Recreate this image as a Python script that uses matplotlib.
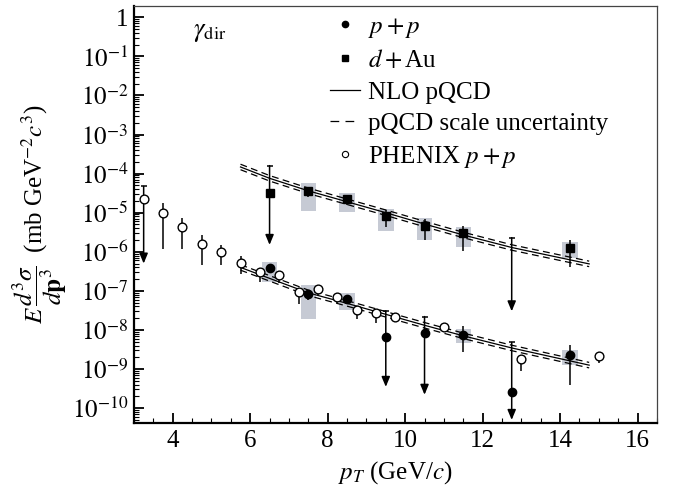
import numpy as np
import matplotlib
matplotlib.use("Agg")
import matplotlib.pyplot as plt
from matplotlib.lines import Line2D
from matplotlib.ticker import MultipleLocator, LogLocator, NullFormatter

plt.rcParams['font.family'] = 'serif'
plt.rcParams['font.serif'] = ['Liberation Serif', 'DejaVu Serif']
plt.rcParams['mathtext.fontset'] = 'stix'

# ---------------- data ----------------
# PHENIX p+p (open circles)
phenix_x = [3.25, 3.75, 4.25, 4.75, 5.25, 5.75, 6.25, 6.75, 7.25, 7.75, 8.25, 8.75, 9.25, 9.75, 11.0, 13.0, 15.0]
phenix_y = [2.2e-5, 1.0e-5, 4.3e-6, 1.6e-6, 9.8e-7, 5.2e-7, 3.1e-7, 2.5e-7, 9.1e-8, 1.15e-7, 6.9e-8, 3.2e-8, 2.7e-8, 2.2e-8, 1.2e-8, 1.8e-9, 2.1e-9]
phenix_hi = [2.2e-5, 1.8e-5, 7.2e-6, 2.7e-6, 1.5e-6, 7.9e-7, 3.8e-7, 2.7e-7, 1.0e-7, 1.25e-7, 7.5e-8, 3.5e-8, 3.0e-8, 2.4e-8, 1.3e-8, 1.9e-9, 2.2e-9]
phenix_lo = [2.2e-5, 1.2e-6, 1.2e-6, 4.7e-7, 4.6e-7, 2.7e-7, 1.7e-7, 1.6e-7, 4.7e-8, 8.0e-8, 5.0e-8, 1.9e-8, 1.55e-8, 1.7e-8, 1.0e-8, 8.7e-10, 1.4e-9]
# PHENIX upper limit (3.25 GeV/c)
phenix_lim_x = [3.25]
phenix_lim_top = [4.7e-5]
phenix_lim_end = [5.0e-7]

# STAR p+p (filled circles)
pp_x = [6.5, 7.5, 8.5, 11.5, 14.25]
pp_y = [3.8e-7, 8.3e-8, 6.1e-8, 7.4e-9, 2.3e-9]
pp_hi = [4.2e-7, 9.5e-8, 6.8e-8, 1.23e-8, 4.2e-9]
pp_lo = [3.4e-7, 5.9e-8, 5.4e-8, 2.8e-9, 4.0e-10]
pp_sys_lo = [1.66e-7, 1.9e-8, 3.2e-8, 4.6e-9, 1.3e-9]
pp_sys_hi = [5.6e-7, 1.4e-7, 8.7e-8, 1.05e-8, 3.1e-9]
# p+p points drawn with upper-limit arrows
pp_lim_x = [9.5, 10.5, 12.75]
pp_lim_y = [6.7e-9, 8.3e-9, 2.6e-10]
pp_lim_top = [3.1e-8, 2.2e-8, 4.8e-9]
pp_lim_end = [3.5e-10, 2.2e-10, 5.0e-11]

# STAR d+Au (filled squares)
dau_x = [7.5, 8.5, 9.5, 10.5, 11.5, 14.25]
dau_y = [3.6e-5, 2.2e-5, 8.3e-6, 4.7e-6, 3.0e-6, 1.23e-6]
dau_hi = [4.5e-5, 2.8e-5, 1.2e-5, 6.8e-6, 4.6e-6, 2.0e-6]
dau_lo = [2.5e-5, 1.6e-5, 4.3e-6, 2.0e-6, 1.07e-6, 4.1e-7]
dau_sys_lo = [1.12e-5, 1.07e-5, 3.5e-6, 2.0e-6, 1.35e-6, 6.9e-7]
dau_sys_hi = [5.6e-5, 3.2e-5, 1.23e-5, 7.2e-6, 4.4e-6, 1.8e-6]
# d+Au upper limits
dau_lim_x = [6.5, 12.75]
dau_lim_top = [1.6e-4, 2.3e-6]
dau_lim_end = [1.5e-6, 3.0e-8]
dau_lim_marker_x = [6.5]
dau_lim_marker_y = [3.2e-5]

# NLO pQCD curves (log10 values)
nlo_x = [5.75, 6.5, 7.5, 8.5, 9.5, 10.5, 11.5, 12.75, 14.75]
nlo_pp_log = [-6.40, -6.68, -7.05, -7.32, -7.60, -7.88, -8.15, -8.46, -8.90]
nlo_pp_up_log = [-6.33, -6.61, -6.98, -7.25, -7.53, -7.81, -8.08, -8.39, -8.83]
nlo_pp_dn_log = [-6.47, -6.75, -7.12, -7.39, -7.67, -7.95, -8.22, -8.53, -8.97]
nlo_dau_log = [-3.83, -4.12, -4.44, -4.72, -5.00, -5.29, -5.57, -5.89, -6.31]
nlo_dau_up_log = [-3.76, -4.05, -4.37, -4.65, -4.93, -5.22, -5.50, -5.82, -6.24]
nlo_dau_dn_log = [-3.90, -4.19, -4.51, -4.79, -5.07, -5.36, -5.64, -5.96, -6.38]

xticks = [4, 6, 8, 10, 12, 14, 16]
yticks = [1e-10, 1e-9, 1e-8, 1e-7, 1e-6, 1e-5, 1e-4, 1e-3, 1e-2, 1e-1, 1]
ytick_labels = [r'$10^{-10}$', r'$10^{-9}$', r'$10^{-8}$', r'$10^{-7}$', r'$10^{-6}$',
                r'$10^{-5}$', r'$10^{-4}$', r'$10^{-3}$', r'$10^{-2}$', r'$10^{-1}$', '1']

FS = 18

# ---------------- figure ----------------
fig = plt.figure(figsize=(6.78, 4.93), dpi=100)
ax = fig.add_axes([0.1976, 0.142, 0.7714, 0.846])
ax.set_yscale('log')
ax.set_xlim(3.0, 16.5)
ax.set_ylim(10**-10.38, 10**0.29)

box_color = '#c6cad4'
bw = 0.4
ax.bar(pp_x, np.array(pp_sys_hi) - np.array(pp_sys_lo), bottom=pp_sys_lo, width=bw,
       color=box_color, edgecolor='none', zorder=1)
ax.bar(dau_x, np.array(dau_sys_hi) - np.array(dau_sys_lo), bottom=dau_sys_lo, width=bw,
       color=box_color, edgecolor='none', zorder=1)

dash = (5.5, 3.5)
lw_c = 0.9
for c, u, d in [(nlo_pp_log, nlo_pp_up_log, nlo_pp_dn_log),
                (nlo_dau_log, nlo_dau_up_log, nlo_dau_dn_log)]:
    ax.plot(nlo_x, 10**np.array(c), color='k', lw=lw_c, zorder=2)
    ax.plot(nlo_x, 10**np.array(u), color='k', lw=lw_c, dashes=dash, zorder=2)
    ax.plot(nlo_x, 10**np.array(d), color='k', lw=lw_c, dashes=dash, zorder=2)

elw = 1.1
def errs(y, lo, hi):
    y = np.array(y); return [y - np.array(lo), np.array(hi) - y]

ax.errorbar(phenix_x, phenix_y, yerr=errs(phenix_y, phenix_lo, phenix_hi), fmt='o',
            ms=6.3, mfc='white', mec='k', mew=1.0, ecolor='k', elinewidth=elw, capsize=0, zorder=4)
ax.errorbar(pp_x, pp_y, yerr=errs(pp_y, pp_lo, pp_hi), fmt='o',
            ms=6.0, mfc='k', mec='k', ecolor='k', elinewidth=elw, capsize=0, zorder=4)
ax.errorbar(dau_x, dau_y, yerr=errs(dau_y, dau_lo, dau_hi), fmt='s',
            ms=5.5, mfc='k', mec='k', ecolor='k', elinewidth=elw, capsize=0, zorder=4)

def limits(xs, tops, ends):
    for x, t, e in zip(xs, tops, ends):
        ax.annotate('', xy=(x, e), xytext=(x, t),
                    arrowprops=dict(arrowstyle='-|>,head_length=0.6,head_width=0.25',
                                    lw=elw, color='k', shrinkA=0, shrinkB=0,
                                    mutation_scale=10), zorder=3)
    ax.plot(xs, tops, ls='none', marker='_', ms=5, mew=elw, color='k', zorder=3)

limits(phenix_lim_x, phenix_lim_top, phenix_lim_end)
limits(pp_lim_x, pp_lim_top, pp_lim_end)
limits(dau_lim_x, dau_lim_top, dau_lim_end)
ax.plot(pp_lim_x, pp_lim_y, 'o', ms=6.0, color='k', zorder=4)
ax.plot(dau_lim_marker_x, dau_lim_marker_y, 's', ms=5.5, color='k', zorder=4)

# axes styling
ax.set_xticks(xticks)
ax.xaxis.set_minor_locator(MultipleLocator(0.5))
ax.set_yticks(yticks)
ax.set_yticklabels(ytick_labels)
ax.yaxis.set_minor_locator(LogLocator(base=10, subs=np.arange(2, 10), numticks=30))
ax.yaxis.set_minor_formatter(NullFormatter())
ax.tick_params(which='both', direction='in', top=False, right=False, labelsize=FS, color='k')
ax.tick_params(which='major', length=7, width=1.3)
ax.tick_params(which='minor', length=3.5, width=0.8)
ax.tick_params(axis='x', pad=5)
ax.tick_params(axis='y', pad=4)
for s in ['left', 'bottom']:
    ax.spines[s].set_linewidth(1.6)
for s in ['top', 'right']:
    ax.spines[s].set_linewidth(0.9)
    ax.spines[s].set_color('#444444')

ax.set_xlabel(r'$p_T$ (GeV/$c$)', fontsize=FS, labelpad=5)
ax.set_ylabel(r'$E\,\dfrac{d^3\sigma}{d\mathbf{p}^3}$  (mb GeV$^{-2}c^3$)', fontsize=FS, labelpad=2)

ax.text(0.113, 0.935, r'$\gamma_{\rm dir}$', transform=ax.transAxes, fontsize=19, va='center')

handles = [
    Line2D([], [], ls='none', marker='o', ms=4.5, color='k'),
    Line2D([], [], ls='none', marker='s', ms=4.2, color='k'),
    Line2D([], [], color='k', lw=0.9),
    Line2D([], [], color='k', lw=0.9, dashes=(7, 5)),
    Line2D([], [], ls='none', marker='o', ms=4.5, mfc='white', mec='k', mew=0.8),
]
labels = [r'$p+p$', r'$d+$Au', 'NLO pQCD', 'pQCD scale uncertainty', r'PHENIX $p+p$']
ax.legend(handles, labels, loc='upper left', bbox_to_anchor=(0.375, 0.977), frameon=False,
          fontsize=FS, handlelength=1.2, handletextpad=0.3, labelspacing=0.36,
          borderaxespad=0, borderpad=0)

fig.savefig('out.png', dpi=100)
